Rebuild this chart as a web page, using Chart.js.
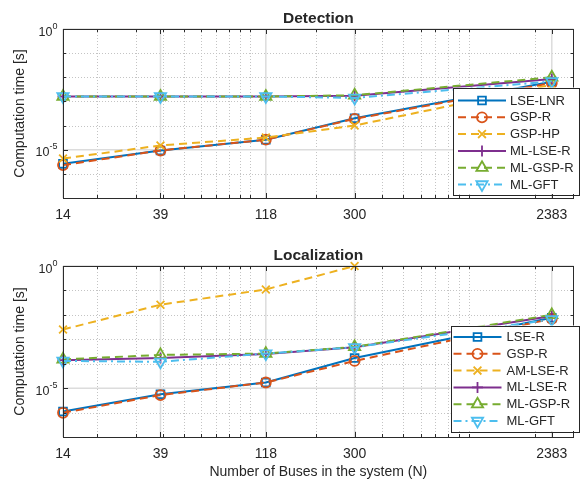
<!DOCTYPE html>
<html>
<head>
<meta charset="utf-8">
<script src="https://cdn.jsdelivr.net/npm/chart.js@4.4.1/dist/chart.umd.min.js"></script>
<style>
  body { margin: 0; background: #fff; }
  canvas { display: block; }
</style>
</head>
<body>
<canvas id="detChart" width="582" height="240"></canvas>
<canvas id="locChart" width="582" height="241"></canvas>
<script>
// number of buses (x values, also the x tick labels)
const buses = [14, 39, 118, 300, 2383];
const xMinorGrid = [20, 30, 40, 50, 60, 70, 80, 90, 100, 200, 300, 400, 500, 600, 700, 800, 900, 1000, 2000];
const yMajorTicks = [1e-5, 1];
const yTickExp = ['-5', '0'];
const yMinorGrid = [1e-1, 1e-2, 1e-3, 1e-4, 1e-6];

// Detection
const detNames = ['LSE-LNR', 'GSP-R', 'GSP-HP', 'ML-LSE-R', 'ML-GSP-R', 'ML-GFT'];
const detLseLnr = [2.6e-6, 9.3e-6, 2.6e-5, 2.0e-4, 6.6e-3];
const detGspR   = [2.3e-6, 9.3e-6, 2.6e-5, 1.9e-4, 5.8e-3];
const detGspHp  = [4.3e-6, 1.5e-5, 3.2e-5, 1.0e-4, 4.9e-3];
const detMlLseR = [1.6e-3, 1.6e-3, 1.6e-3, 1.7e-3, 8.5e-3];
const detMlGspR = [1.6e-3, 1.6e-3, 1.6e-3, 1.8e-3, 1.0e-2];
const detMlGft  = [1.6e-3, 1.6e-3, 1.6e-3, 1.4e-3, 6.8e-3];

// Localization
const locNames = ['LSE-R', 'GSP-R', 'AM-LSE-R', 'ML-LSE-R', 'ML-GSP-R', 'ML-GFT'];
const locLseR   = [1.1e-6, 5.6e-6, 1.7e-5, 1.7e-4, 7.6e-3];
const locGspR   = [9.8e-7, 5.2e-6, 1.7e-5, 1.3e-4, 6.9e-3];
const locAmLseR = [2.5e-3, 2.6e-2, 0.11, 1.0, null];
const locMlLseR = [1.4e-4, 1.7e-4, 2.5e-4, 4.7e-4, 8.9e-3];
const locMlGspR = [1.5e-4, 2.3e-4, 2.6e-4, 4.9e-4, 1.0e-2];
const locMlGft  = [1.3e-4, 1.2e-4, 2.6e-4, 4.7e-4, 6.5e-3];

// matlab default line styles, one per series slot
const styles = [
  { color: '#0072BD', dash: [], point: 'rect', r: 5.5, rot: 0 },
  { color: '#D95319', dash: [8, 5], point: 'circle', r: 5, rot: 0 },
  { color: '#EDB120', dash: [8, 5], point: 'crossRot', r: 5.5, rot: 0 },
  { color: '#7E2F8E', dash: [], point: 'cross', r: 5.5, rot: 0 },
  { color: '#77AC30', dash: [8, 5], point: 'triangle', r: 6.5, rot: 0 },
  { color: '#4DBEEE', dash: [8, 4, 2, 4], point: 'triangle', r: 6.5, rot: 180 }
];

const FONT = '"Liberation Sans", Arial, Helvetica, sans-serif';
const TXT = '#262626';

function makeDatasets(names, series) {
  return series.map((vals, i) => {
    const s = styles[i];
    return {
      label: names[i],
      data: vals,
      borderColor: s.color,
      borderWidth: 2,
      borderDash: s.dash,
      pointStyle: s.point,
      pointRotation: s.rot,
      pointRadius: s.r,
      pointBorderWidth: 1.8,
      pointBorderColor: s.color,
      pointBackgroundColor: 'rgba(0,0,0,0)',
      tension: 0,
      spanGaps: false,
      clip: false,
      order: series.length - i
    };
  });
}

const matlabAxes = {
  id: 'matlabAxes',
  beforeDatasetsDraw(chart) {
    const { ctx, chartArea: a, scales: { x, y } } = chart;
    ctx.save();
    // minor grid, dotted
    ctx.strokeStyle = '#c4c4c4';
    ctx.lineWidth = 1;
    ctx.setLineDash([1, 2]);
    ctx.beginPath();
    xMinorGrid.forEach(v => {
      const px = Math.round(x.getPixelForValue(v)) + 0.5;
      ctx.moveTo(px, a.top); ctx.lineTo(px, a.bottom);
    });
    yMinorGrid.forEach(v => {
      const py = Math.round(y.getPixelForValue(v)) + 0.5;
      ctx.moveTo(a.left, py); ctx.lineTo(a.right, py);
    });
    ctx.stroke();
    // major grid
    ctx.setLineDash([]);
    ctx.strokeStyle = '#dcdcdc';
    ctx.lineWidth = 1.5;
    ctx.beginPath();
    buses.forEach(v => {
      const px = x.getPixelForValue(v);
      ctx.moveTo(px, a.top); ctx.lineTo(px, a.bottom);
    });
    yMajorTicks.forEach(v => {
      const py = y.getPixelForValue(v);
      ctx.moveTo(a.left, py); ctx.lineTo(a.right, py);
    });
    ctx.stroke();
    ctx.restore();
  },
  afterDatasetsDraw(chart, args, opts) {
    const { ctx, chartArea: a, scales: { x, y } } = chart;
    ctx.save();
    // box
    ctx.strokeStyle = '#2b2b2b';
    ctx.lineWidth = 1;
    ctx.strokeRect(Math.round(a.left) + 0.5, Math.round(a.top) + 0.5,
      Math.round(a.right - a.left) - 1, Math.round(a.bottom - a.top));
    // inner ticks
    ctx.beginPath();
    const xt = (v, len) => {
      const px = Math.round(x.getPixelForValue(v)) + 0.5;
      ctx.moveTo(px, a.bottom); ctx.lineTo(px, a.bottom - len);
      ctx.moveTo(px, a.top); ctx.lineTo(px, a.top + len);
    };
    const yt = (v, len) => {
      const py = Math.round(y.getPixelForValue(v)) + 0.5;
      ctx.moveTo(a.left, py); ctx.lineTo(a.left + len, py);
      ctx.moveTo(a.right, py); ctx.lineTo(a.right - len, py);
    };
    xMinorGrid.forEach(v => xt(v, 3));
    buses.forEach(v => xt(v, 5));
    yMinorGrid.forEach(v => yt(v, 3));
    yMajorTicks.forEach(v => yt(v, 5));
    ctx.stroke();

    ctx.fillStyle = TXT;
    // x tick labels
    ctx.font = '14px ' + FONT;
    ctx.textAlign = 'center';
    ctx.textBaseline = 'alphabetic';
    buses.forEach(v => ctx.fillText(String(v), x.getPixelForValue(v), a.bottom + 20.5));
    // y tick labels 10^k
    yMajorTicks.forEach((v, i) => {
      const py = y.getPixelForValue(v);
      ctx.font = '9px ' + FONT;
      const we = ctx.measureText(yTickExp[i]).width;
      ctx.textAlign = 'left';
      const right = a.left - 5.5;
      ctx.fillText(yTickExp[i], right - we, py - 0.5);
      ctx.font = '12.5px ' + FONT;
      ctx.textAlign = 'right';
      ctx.fillText('10', right - we, py + 6.5);
    });
    // title
    ctx.font = 'bold 15.5px ' + FONT;
    ctx.textAlign = 'center';
    ctx.fillText(opts.title, (a.left + a.right) / 2, a.top - 6.5);
    // y axis label
    ctx.font = '14px ' + FONT;
    ctx.save();
    ctx.translate(23.5, (a.top + a.bottom) / 2);
    ctx.rotate(-Math.PI / 2);
    ctx.fillText('Computation time [s]', 0, 0);
    ctx.restore();
    if (opts.xLabel) {
      ctx.fillText(opts.xLabel, (a.left + a.right) / 2, a.bottom + 38.7);
    }
    ctx.restore();
  },
  afterDraw(chart, args, opts) {
    const { ctx } = chart;
    const b = opts.legend;
    ctx.save();
    ctx.fillStyle = '#fff';
    ctx.fillRect(b.x, b.y, b.w, b.h);
    ctx.strokeStyle = '#262626';
    ctx.lineWidth = 1;
    ctx.strokeRect(Math.round(b.x) + 0.5, Math.round(b.y) + 0.5, Math.round(b.w), Math.round(b.h));
    chart.data.datasets.forEach((ds, i) => {
      const s = styles[i];
      const cy = b.y + b.first + i * b.step;
      ctx.strokeStyle = s.color;
      ctx.lineWidth = 2;
      ctx.setLineDash(s.dash);
      ctx.beginPath();
      ctx.moveTo(b.x + b.l0, cy);
      ctx.lineTo(b.x + b.l1, cy);
      ctx.stroke();
      ctx.setLineDash([]);
      ctx.fillStyle = 'rgba(0,0,0,0)';
      ctx.lineWidth = 1.8;
      Chart.helpers.drawPoint(ctx, {
        pointStyle: s.point, rotation: s.rot, radius: s.r, borderWidth: 1.8
      }, b.x + (b.l0 + b.l1) / 2, cy);
      ctx.fillStyle = TXT;
      ctx.font = '13px ' + FONT;
      ctx.textAlign = 'left';
      ctx.textBaseline = 'middle';
      ctx.fillText(ds.label, b.x + b.tx, cy + 0.5);
    });
    ctx.restore();
  }
};

function logScales() {
  return {
    x: { type: 'logarithmic', min: 14, max: 3000, display: false },
    y: { type: 'logarithmic', min: 1e-7, max: 1, display: false }
  };
}

new Chart(document.getElementById('detChart'), {
  type: 'line',
  data: {
    labels: buses,
    datasets: makeDatasets(detNames, [detLseLnr, detGspR, detGspHp, detMlLseR, detMlGspR, detMlGft])
  },
  options: {
    responsive: false,
    animation: false,
    layout: { padding: { left: 63, right: 1, top: 29, bottom: 42 } },
    scales: logScales(),
    plugins: {
      legend: { display: false },
      tooltip: { enabled: false },
      matlabAxes: {
        title: 'Detection',
        legend: { x: 453, y: 87.5, w: 125.5, h: 106.5, first: 13, step: 16.8, l0: 5, l1: 53, tx: 57 }
      }
    }
  },
  plugins: [matlabAxes]
});

new Chart(document.getElementById('locChart'), {
  type: 'line',
  data: {
    labels: buses,
    datasets: makeDatasets(locNames, [locLseR, locGspR, locAmLseR, locMlLseR, locMlGspR, locMlGft])
  },
  options: {
    responsive: false,
    animation: false,
    layout: { padding: { left: 63, right: 1, top: 26, bottom: 44 } },
    scales: logScales(),
    plugins: {
      legend: { display: false },
      tooltip: { enabled: false },
      matlabAxes: {
        title: 'Localization',
        xLabel: 'Number of Buses in the system (N)',
        legend: { x: 450.5, y: 85.5, w: 128, h: 105.5, first: 11.5, step: 16.8, l0: 3, l1: 51, tx: 56 }
      }
    }
  },
  plugins: [matlabAxes]
});
</script>
</body>
</html>
